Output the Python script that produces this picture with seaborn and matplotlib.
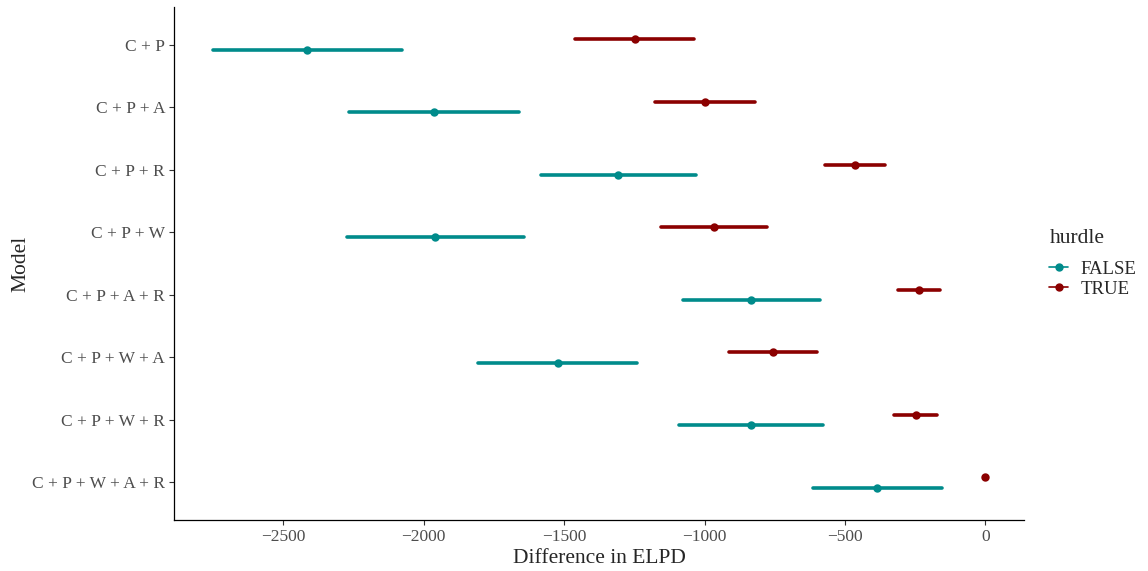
import pandas as pd
import seaborn as sns
import matplotlib.pyplot as plt
from matplotlib.lines import Line2D

# model labels, top to bottom
models = ['C + P', 'C + P + A', 'C + P + R', 'C + P + W',
          'C + P + A + R', 'C + P + W + A', 'C + P + W + R', 'C + P + W + A + R']

# hurdle = FALSE (teal): lower, estimate, upper
false_lo  = [-2751, -2266, -1584, -2273, -1078, -1806, -1090, -614]
false_est = [-2416, -1964, -1308, -1959,  -835, -1523,  -836, -386]
false_hi  = [-2079, -1661, -1032, -1643,  -589, -1239,  -579, -156]

# hurdle = TRUE (dark red)
true_lo  = [-1460, -1175, -571, -1156, -310, -913, -325, 0]
true_est = [-1249, -1000, -464,  -968, -238, -756, -248, 0]
true_hi  = [-1036,  -822, -358,  -778, -163, -598, -171, 0]

rows = []
for hurdle, lo, est, hi in [('FALSE', false_lo, false_est, false_hi),
                            ('TRUE', true_lo, true_est, true_hi)]:
    for m, a, b, c in zip(models, lo, est, hi):
        for v in (a, b, c):
            rows.append({'Model': m, 'hurdle': hurdle, 'elpd': v})
df = pd.DataFrame(rows)

sns.set_style('white')
plt.rcParams['font.family'] = ['Liberation Serif', 'DejaVu Serif']
plt.rcParams['axes.unicode_minus'] = True

fig = plt.figure(figsize=(11.48, 5.71), dpi=100)
ax = fig.add_axes([0.1516, 0.0893, 0.7404, 0.8984])

# median of (lo, est, hi) is the estimate, 100% interval spans lo..hi
pal = {'FALSE': '#008B8B', 'TRUE': '#8B0000'}
sns.pointplot(data=df, x='elpd', y='Model', hue='hurdle', order=models,
              hue_order=['TRUE', 'FALSE'], palette=pal,
              estimator='median', errorbar=('pi', 100),
              dodge=0.165, linestyle='none', markers='o',
              markersize=4, err_kws={'linewidth': 2.6}, ax=ax, legend=False)

ax.set_xlim(-2889, 137.5)
ax.set_ylim(7.6, -0.6)
ax.set_xticks([-2500, -2000, -1500, -1000, -500, 0])
ax.set_xticklabels(['\u22122500', '\u22122000', '\u22121500', '\u22121000', '\u2212500', '0'])
ax.set_xlabel('Difference in ELPD', fontsize=15.5, labelpad=3)
ax.set_ylabel('Model', fontsize=15.5, labelpad=1)
ax.tick_params(axis='both', labelsize=12.5, labelcolor='#4D4D4D',
               color='#333333', length=3.5, width=0.8, direction='out',
               left=True, bottom=True, pad=3)
for s in ['top', 'right']:
    ax.spines[s].set_visible(False)
for s in ['left', 'bottom']:
    ax.spines[s].set_color('black')
    ax.spines[s].set_linewidth(0.9)

handles = [Line2D([], [], color=pal[k], marker='o', markersize=5, lw=1.2)
           for k in ['FALSE', 'TRUE']]
leg = ax.legend(handles, ['FALSE', 'TRUE'],
                title='hurdle', loc='center left', bbox_to_anchor=(1.01, 0.5),
                frameon=False, fontsize=13.5, title_fontsize=15.5,
                handlelength=1.0, handletextpad=0.65, labelspacing=0.15)
leg._legend_box.align = 'left'
leg._legend_box.sep = 9

fig.savefig('out.png', dpi=100)
